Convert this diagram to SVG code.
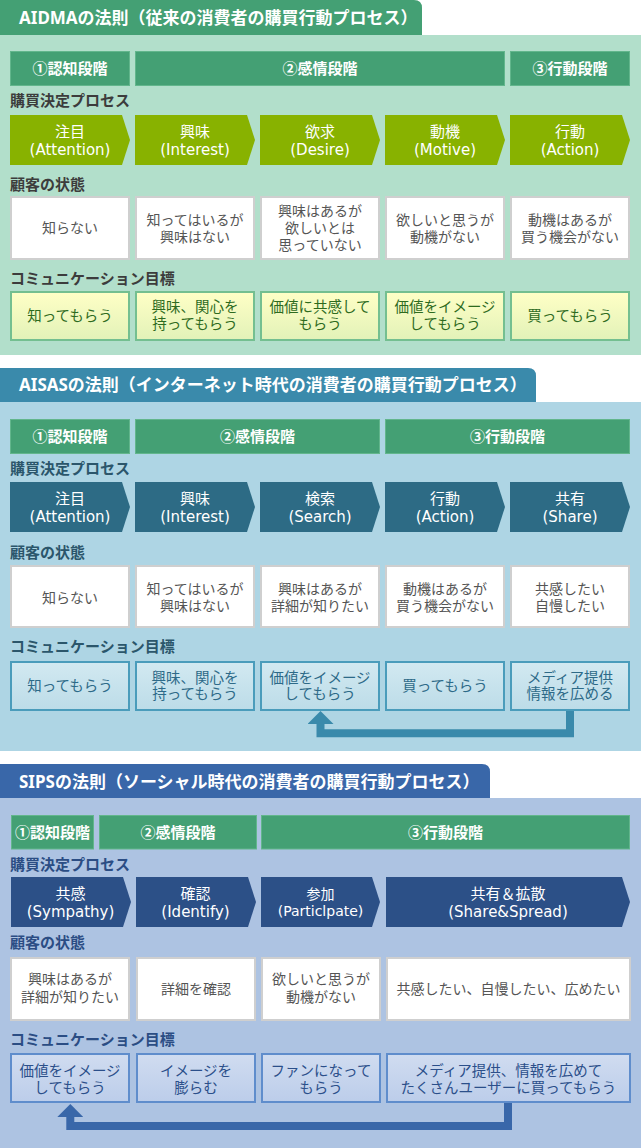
<svg xmlns="http://www.w3.org/2000/svg" width="641" height="1148" viewBox="0 0 641 1148">
<style>
text{font-family:"Noto Sans","Noto Sans CJK JP",sans-serif}
.ttl{font-size:17px;font-weight:bold;fill:#fff}
.stg{fill:#44a074;stroke:#62b68c;stroke-width:1}
.stgt{font-size:15px;font-weight:bold;fill:#fff;text-anchor:middle}
.lbl{font-size:15px;font-weight:bold}
text.arrt{font-family:"DejaVu Sans","Noto Sans CJK JP",sans-serif;font-size:15px;fill:#fff;text-anchor:middle}
.st{fill:#fff;stroke:#cfcfcf;stroke-width:2}
text.stt{font-family:"Liberation Sans","Noto Sans CJK JP",sans-serif;font-size:14px;fill:#555;text-anchor:middle}
text.gt{font-family:"Liberation Sans","Noto Sans CJK JP",sans-serif;font-size:14.5px;text-anchor:middle}
.g1{fill:url(#gy);stroke:#74bf90;stroke-width:2}
.g2{fill:url(#gb);stroke:#4a9cbb;stroke-width:2}
.g3{fill:url(#gs);stroke:#5f8dcc;stroke-width:2}
.t1{fill:#2e6b1e}.t2{fill:#2d6a88}.t3{fill:#2b4f8a}
.a1{fill:#88b200}.a2{fill:#2d6b85}.a3{fill:#2c5087}
.l1{fill:#3c3c3c}.l2{fill:#2b566b}.l3{fill:#2b4d84}
</style>
<defs>
<linearGradient id="gy" x1="0" y1="0" x2="0" y2="1"><stop offset="0" stop-color="#ffffc6"/><stop offset="1" stop-color="#e2f2b8"/></linearGradient>
<linearGradient id="gb" x1="0" y1="0" x2="0" y2="1"><stop offset="0" stop-color="#d2e9f1"/><stop offset="1" stop-color="#bcdce8"/></linearGradient>
<linearGradient id="gs" x1="0" y1="0" x2="0" y2="1"><stop offset="0" stop-color="#d0dcf0"/><stop offset="1" stop-color="#bccdea"/></linearGradient>
<marker id="h2" markerUnits="userSpaceOnUse" viewBox="0 -13 13 26" markerWidth="13" markerHeight="26" refX="0" refY="0" orient="auto"><path d="M0,-13 L13,0 L0,13 Z" fill="#3a8aab"/></marker>
<marker id="h3" markerUnits="userSpaceOnUse" viewBox="0 -13 13 26" markerWidth="13" markerHeight="26" refX="0" refY="0" orient="auto"><path d="M0,-13 L13,0 L0,13 Z" fill="#3967a9"/></marker>
</defs>
<rect width="641" height="1148" fill="#fff"/>

<!-- ========== AIDMA ========== -->
<g id="aidma-section">
<path d="M0,0 H414 Q422,0 422,8 V35 H0 Z" fill="#44a074"/>
<text class="ttl" x="19" y="24">AIDMAの法則（従来の消費者の購買行動プロセス）</text>
<rect x="0" y="35" width="641" height="320" fill="#b2dfcb"/>
</g>
<g id="aidma-stage1"><rect class="stg" x="10.5" y="51.5" width="119" height="34"/><text class="stgt" x="70" y="74">①認知段階</text></g>
<g id="aidma-stage2"><rect class="stg" x="135.5" y="51.5" width="369" height="34"/><text class="stgt" x="320" y="74">②感情段階</text></g>
<g id="aidma-stage3"><rect class="stg" x="510.5" y="51.5" width="119" height="34"/><text class="stgt" x="570" y="74">③行動段階</text></g>
<text class="lbl l1" x="10" y="106">購買決定プロセス</text>
<g id="aidma-p1"><path class="a1" d="M10,115 H122 L130,140 L122,165 H10 Z"/><text class="arrt" x="70" y="137">注目<tspan x="70" dy="18">(Attention)</tspan></text></g>
<g id="aidma-p2"><path class="a1" d="M135,115 H247 L255,140 L247,165 H135 Z"/><text class="arrt" x="195" y="137">興味<tspan x="195" dy="18">(Interest)</tspan></text></g>
<g id="aidma-p3"><path class="a1" d="M260,115 H372 L380,140 L372,165 H260 Z"/><text class="arrt" x="320" y="137">欲求<tspan x="320" dy="18">(Desire)</tspan></text></g>
<g id="aidma-p4"><path class="a1" d="M385,115 H497 L505,140 L497,165 H385 Z"/><text class="arrt" x="445" y="137">動機<tspan x="445" dy="18">(Motive)</tspan></text></g>
<g id="aidma-p5"><path class="a1" d="M510,115 H622 L630,140 L622,165 H510 Z"/><text class="arrt" x="570" y="137">行動<tspan x="570" dy="18">(Action)</tspan></text></g>
<text class="lbl l1" x="10" y="190">顧客の状態</text>
<g id="aidma-s1"><rect class="st" x="11" y="197" width="118" height="62"/><text class="stt" x="70" y="233">知らない</text></g>
<g id="aidma-s2"><rect class="st" x="136" y="197" width="118" height="62"/><text class="stt" x="195" y="224.5">知ってはいるが<tspan x="195" dy="17">興味はない</tspan></text></g>
<g id="aidma-s3"><rect class="st" x="261" y="197" width="118" height="62"/><text class="stt" x="320" y="215.5">興味はあるが<tspan x="320" dy="17">欲しいとは</tspan><tspan x="320" dy="17">思っていない</tspan></text></g>
<g id="aidma-s4"><rect class="st" x="386" y="197" width="118" height="62"/><text class="stt" x="445" y="224.5">欲しいと思うが<tspan x="445" dy="17">動機がない</tspan></text></g>
<g id="aidma-s5"><rect class="st" x="511" y="197" width="118" height="62"/><text class="stt" x="570" y="224.5">動機はあるが<tspan x="570" dy="17">買う機会がない</tspan></text></g>
<text class="lbl l1" x="10" y="284">コミュニケーション目標</text>
<g id="aidma-g1"><rect class="g1" x="11" y="292" width="118" height="48"/><text class="gt t1" x="70" y="321">知ってもらう</text></g>
<g id="aidma-g2"><rect class="g1" x="136" y="292" width="118" height="48"/><text class="gt t1" x="195" y="312">興味、関心を<tspan x="195" dy="17">持ってもらう</tspan></text></g>
<g id="aidma-g3"><rect class="g1" x="261" y="292" width="118" height="48"/><text class="gt t1" x="320" y="312">価値に共感して<tspan x="320" dy="17">もらう</tspan></text></g>
<g id="aidma-g4"><rect class="g1" x="386" y="292" width="118" height="48"/><text class="gt t1" x="445" y="312">価値をイメージ<tspan x="445" dy="17">してもらう</tspan></text></g>
<g id="aidma-g5"><rect class="g1" x="511" y="292" width="118" height="48"/><text class="gt t1" x="570" y="321">買ってもらう</text></g>

<!-- ========== AISAS ========== -->
<g id="aisas-section">
<path d="M0,368 H528 Q536,368 536,376 V402 H0 Z" fill="#3a8aab"/>
<text class="ttl" x="19" y="391">AISASの法則（インターネット時代の消費者の購買行動プロセス）</text>
<rect x="0" y="402" width="641" height="349" fill="#aed5e4"/>
</g>
<g id="aisas-stage1"><rect class="stg" x="10.5" y="419.5" width="119" height="34"/><text class="stgt" x="70" y="442">①認知段階</text></g>
<g id="aisas-stage2"><rect class="stg" x="135.5" y="419.5" width="244" height="34"/><text class="stgt" x="257.5" y="442">②感情段階</text></g>
<g id="aisas-stage3"><rect class="stg" x="385.5" y="419.5" width="244" height="34"/><text class="stgt" x="507.5" y="442">③行動段階</text></g>
<text class="lbl l2" x="10" y="473.5">購買決定プロセス</text>
<g id="aisas-p1"><path class="a2" d="M10,482 H122 L130,507 L122,532 H10 Z"/><text class="arrt" x="70" y="504">注目<tspan x="70" dy="18">(Attention)</tspan></text></g>
<g id="aisas-p2"><path class="a2" d="M135,482 H247 L255,507 L247,532 H135 Z"/><text class="arrt" x="195" y="504">興味<tspan x="195" dy="18">(Interest)</tspan></text></g>
<g id="aisas-p3"><path class="a2" d="M260,482 H372 L380,507 L372,532 H260 Z"/><text class="arrt" x="320" y="504">検索<tspan x="320" dy="18">(Search)</tspan></text></g>
<g id="aisas-p4"><path class="a2" d="M385,482 H497 L505,507 L497,532 H385 Z"/><text class="arrt" x="445" y="504">行動<tspan x="445" dy="18">(Action)</tspan></text></g>
<g id="aisas-p5"><path class="a2" d="M510,482 H622 L630,507 L622,532 H510 Z"/><text class="arrt" x="570" y="504">共有<tspan x="570" dy="18">(Share)</tspan></text></g>
<text class="lbl l2" x="10" y="558">顧客の状態</text>
<g id="aisas-s1"><rect class="st" x="11" y="566" width="118" height="61"/><text class="stt" x="70" y="602.5">知らない</text></g>
<g id="aisas-s2"><rect class="st" x="136" y="566" width="118" height="61"/><text class="stt" x="195" y="593.5">知ってはいるが<tspan x="195" dy="17">興味はない</tspan></text></g>
<g id="aisas-s3"><rect class="st" x="261" y="566" width="118" height="61"/><text class="stt" x="320" y="593.5">興味はあるが<tspan x="320" dy="17">詳細が知りたい</tspan></text></g>
<g id="aisas-s4"><rect class="st" x="386" y="566" width="118" height="61"/><text class="stt" x="445" y="593.5">動機はあるが<tspan x="445" dy="17">買う機会がない</tspan></text></g>
<g id="aisas-s5"><rect class="st" x="511" y="566" width="118" height="61"/><text class="stt" x="570" y="593.5">共感したい<tspan x="570" dy="17">自慢したい</tspan></text></g>
<text class="lbl l2" x="10" y="652">コミュニケーション目標</text>
<g id="aisas-g1"><rect class="g2" x="11" y="662" width="118" height="48"/><text class="gt t2" x="70" y="690.5">知ってもらう</text></g>
<g id="aisas-g2"><rect class="g2" x="136" y="662" width="118" height="48"/><text class="gt t2" x="195" y="682.5">興味、関心を<tspan x="195" dy="16.5">持ってもらう</tspan></text></g>
<g id="aisas-g3"><rect class="g2" x="261" y="662" width="118" height="48"/><text class="gt t2" x="320" y="682.5">価値をイメージ<tspan x="320" dy="16.5">してもらう</tspan></text></g>
<g id="aisas-g4"><rect class="g2" x="386" y="662" width="118" height="48"/><text class="gt t2" x="445" y="690.5">買ってもらう</text></g>
<g id="aisas-g5"><rect class="g2" x="511" y="662" width="118" height="48"/><text class="gt t2" x="570" y="682.5">メディア提供<tspan x="570" dy="16.5">情報を広める</tspan></text></g>

<!-- ========== SIPS ========== -->
<g id="sips-section">
<path d="M0,764 H482 Q490,764 490,772 V798 H0 Z" fill="#3967a9"/>
<text class="ttl" x="19" y="788">SIPSの法則（ソーシャル時代の消費者の購買行動プロセス）</text>
<rect x="0" y="798" width="641" height="350" fill="#adc3e2"/>
</g>
<g id="sips-stage1"><rect class="stg" x="11.5" y="815.5" width="82" height="33.5"/><text class="stgt" x="52.5" y="837.5">①認知段階</text></g>
<g id="sips-stage2"><rect class="stg" x="99.5" y="815.5" width="157" height="33.5"/><text class="stgt" x="178" y="837.5">②感情段階</text></g>
<g id="sips-stage3"><rect class="stg" x="261.5" y="815.5" width="368" height="33.5"/><text class="stgt" x="445.5" y="837.5">③行動段階</text></g>
<text class="lbl l3" x="10" y="869.5">購買決定プロセス</text>
<g id="sips-p1"><path class="a3" d="M11,877 H123 L131,902 L123,927 H11 Z"/><text class="arrt" x="70.5" y="899">共感<tspan x="70.5" dy="18">(Sympathy)</tspan></text></g>
<g id="sips-p2"><path class="a3" d="M136,877 H248 L256,902 L248,927 H136 Z"/><text class="arrt" x="195.5" y="899">確認<tspan x="195.5" dy="18">(Identify)</tspan></text></g>
<g id="sips-p3"><path class="a3" d="M261,877 H372 L380,902 L372,927 H261 Z"/><text class="arrt" x="320.5" y="899" style="font-size:14px">参加<tspan x="320.5" dy="17">(Particlpate)</tspan></text></g>
<g id="sips-p4"><path class="a3" d="M386,877 H622 L630,902 L622,927 H386 Z"/><text class="arrt" x="508" y="899">共有＆拡散<tspan x="508" dy="18">(Share&amp;Spread)</tspan></text></g>
<text class="lbl l3" x="10" y="948">顧客の状態</text>
<g id="sips-s1"><rect class="st" x="11" y="958" width="118" height="62"/><text class="stt" x="70" y="984">興味はあるが<tspan x="70" dy="17.5">詳細が知りたい</tspan></text></g>
<g id="sips-s2"><rect class="st" x="137" y="958" width="118" height="62"/><text class="stt" x="196" y="993.5">詳細を確認</text></g>
<g id="sips-s3"><rect class="st" x="262" y="958" width="118" height="62"/><text class="stt" x="321" y="984">欲しいと思うが<tspan x="321" dy="17.5">動機がない</tspan></text></g>
<g id="sips-s4"><rect class="st" x="387" y="958" width="243" height="62"/><text class="stt" x="508.5" y="993.5">共感したい、自慢したい、広めたい</text></g>
<text class="lbl l3" x="10" y="1045">コミュニケーション目標</text>
<g id="sips-g1"><rect class="g3" x="11" y="1054" width="118" height="48"/><text class="gt t3" x="70" y="1076">価値をイメージ<tspan x="70" dy="16.5">してもらう</tspan></text></g>
<g id="sips-g2"><rect class="g3" x="137" y="1054" width="118" height="48"/><text class="gt t3" x="196" y="1076">イメージを<tspan x="196" dy="16.5">膨らむ</tspan></text></g>
<g id="sips-g3"><rect class="g3" x="262" y="1054" width="118" height="48"/><text class="gt t3" x="321" y="1076">ファンになって<tspan x="321" dy="16.5">もらう</tspan></text></g>
<g id="sips-g4"><rect class="g3" x="387" y="1054" width="243" height="48"/><text class="gt t3" x="508.5" y="1076">メディア提供、情報を広めて<tspan x="508.5" dy="16.5">たくさんユーザーに買ってもらう</tspan></text></g>

<!-- ========== connectors ========== -->
<g id="connectors" fill="none" stroke-width="8" stroke-linejoin="miter">
<polyline points="570,711 570,733.3 320.5,733.3 320.5,724" stroke="#3a8aab" marker-end="url(#h2)"/>
<polyline points="508,1103 508,1126 70.3,1126 70.3,1117" stroke="#3967a9" marker-end="url(#h3)"/>
</g>
</svg>
